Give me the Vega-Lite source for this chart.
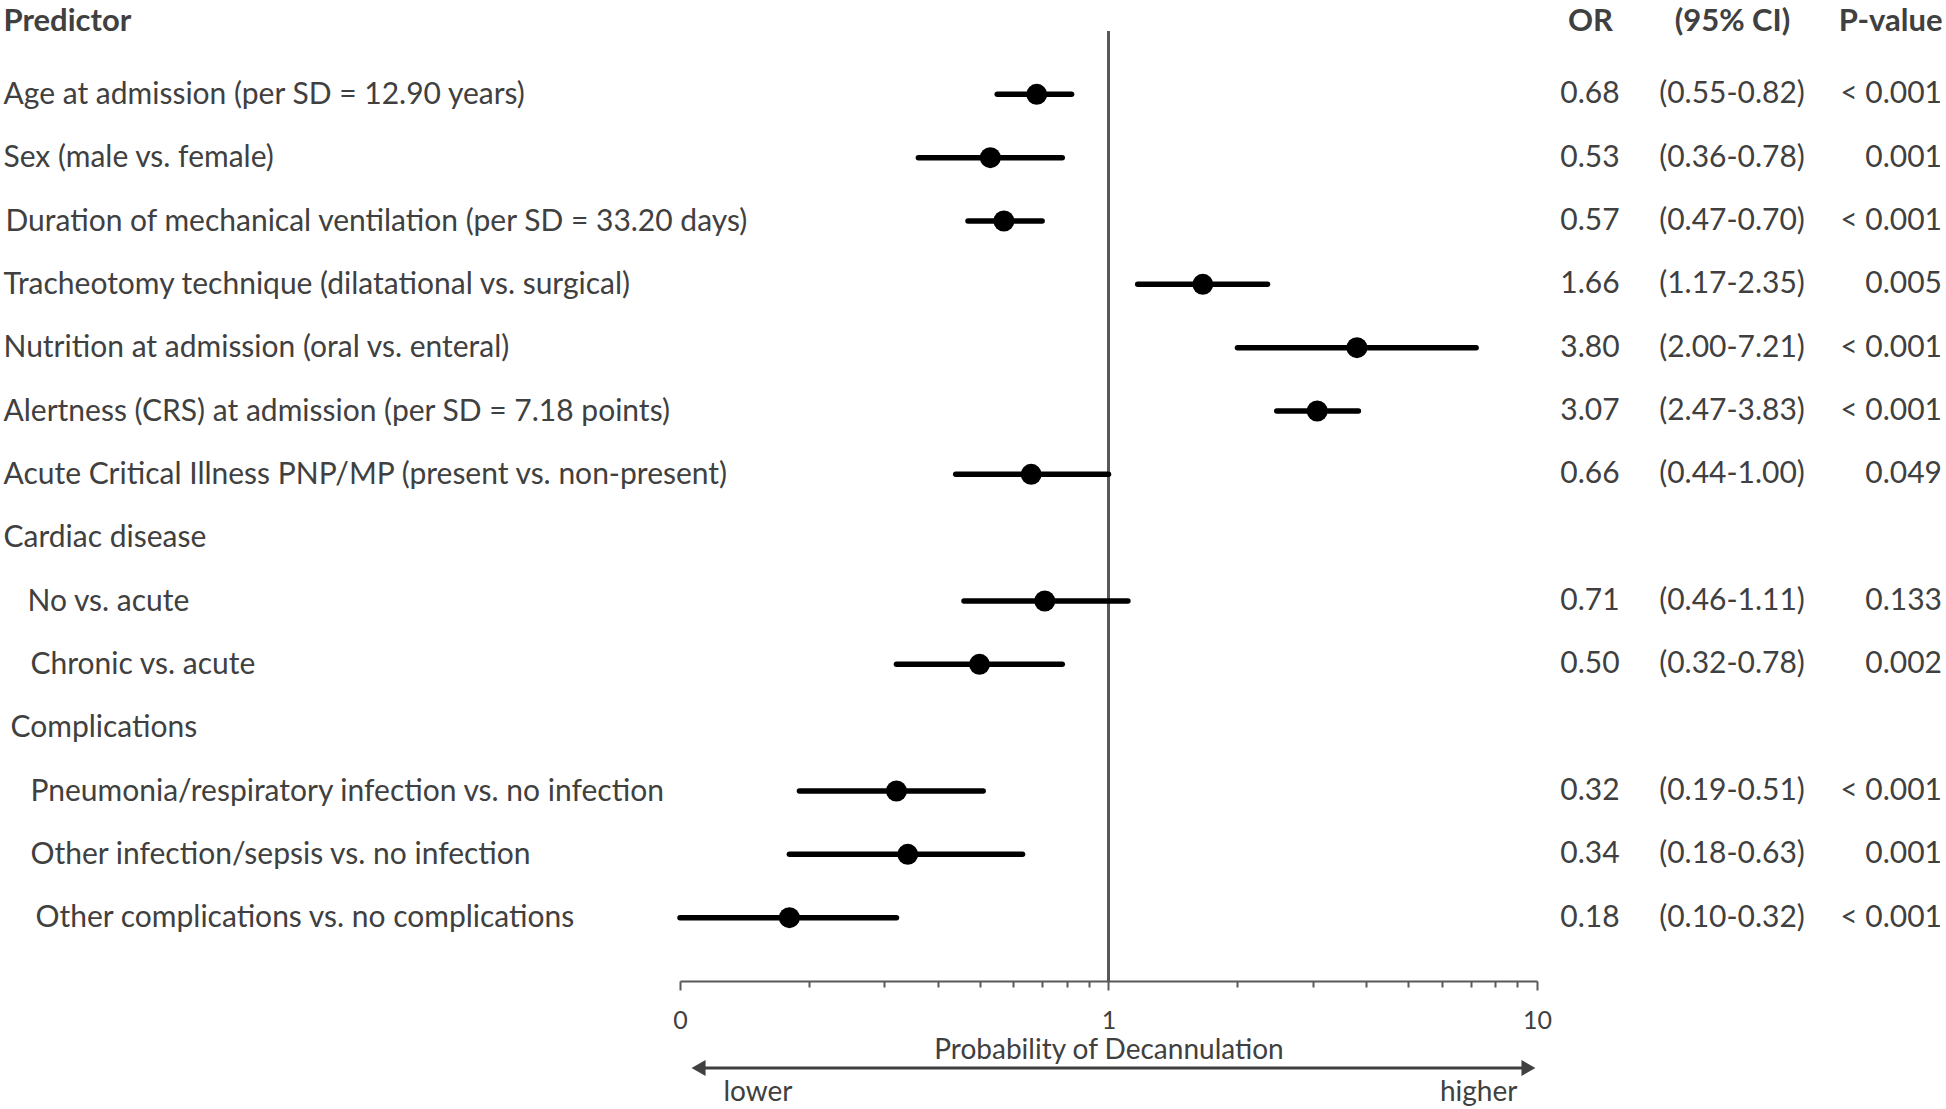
{
  "$schema": "https://vega.github.io/schema/vega-lite/v6.json",
  "padding": {"left": 3, "top": 5, "right": 4, "bottom": 0},
  "background": "white",
  "config": {
    "view": {"stroke": null},
    "font": "Lato",
    "text": {"font": "Lato"},
    "axis": {"labelFont": "Lato", "titleFont": "Lato"},
    "title": {"font": "Lato"}
  },
  "datasets": {
    "or": [
      {"label": "Age at admission (per SD = 12.90 years)", "OR": 0.68, "lo": 0.55, "hi": 0.82, "CI": "(0.55-0.82)", "P": "< 0.001"},
      {"label": "Sex (male vs. female)", "OR": 0.53, "lo": 0.36, "hi": 0.78, "CI": "(0.36-0.78)", "P": "0.001"},
      {"label": "Duration of mechanical ventilation (per SD = 33.20 days)", "OR": 0.57, "lo": 0.47, "hi": 0.70, "CI": "(0.47-0.70)", "P": "< 0.001"},
      {"label": "Tracheotomy technique (dilatational vs. surgical)", "OR": 1.66, "lo": 1.17, "hi": 2.35, "CI": "(1.17-2.35)", "P": "0.005"},
      {"label": "Nutrition at admission (oral vs. enteral)", "OR": 3.80, "lo": 2.00, "hi": 7.21, "CI": "(2.00-7.21)", "P": "< 0.001"},
      {"label": "Alertness (CRS) at admission (per SD = 7.18 points)", "OR": 3.07, "lo": 2.47, "hi": 3.83, "CI": "(2.47-3.83)", "P": "< 0.001"},
      {"label": "Acute Critical Illness PNP/MP (present vs. non-present)", "OR": 0.66, "lo": 0.44, "hi": 1.00, "CI": "(0.44-1.00)", "P": "0.049"},
      {"label": "Cardiac disease", "OR": null, "lo": null, "hi": null, "CI": null, "P": null},
      {"label": "No vs. acute", "OR": 0.71, "lo": 0.46, "hi": 1.11, "CI": "(0.46-1.11)", "P": "0.133"},
      {"label": "Chronic vs. acute", "OR": 0.50, "lo": 0.32, "hi": 0.78, "CI": "(0.32-0.78)", "P": "0.002"},
      {"label": "Complications", "OR": null, "lo": null, "hi": null, "CI": null, "P": null},
      {"label": "Pneumonia/respiratory infection vs. no infection", "OR": 0.32, "lo": 0.19, "hi": 0.51, "CI": "(0.19-0.51)", "P": "< 0.001"},
      {"label": "Other infection/sepsis vs. no infection", "OR": 0.34, "lo": 0.18, "hi": 0.63, "CI": "(0.18-0.63)", "P": "0.001"},
      {"label": "Other complications vs. no complications", "OR": 0.18, "lo": 0.10, "hi": 0.32, "CI": "(0.10-0.32)", "P": "< 0.001"}
    ]
  },
  "columns": 4,
  "spacing": {"row": 62, "column": 0},
  "bounds": "flush",
  "concat": [
    {
      "width": 857,
      "height": 950,
      "data": {"name": "or"},
      "layer": [
        {
          "mark": {"type": "rule", "color": "#595959", "strokeWidth": 2},
          "encoding": {
            "x": {"datum": 1, "type": "quantitative", "title": "Probability of Decannulation"}
          }
        },
        {
          "mark": {"type": "rule", "color": "black", "strokeWidth": 5.5, "strokeCap": "round"},
          "encoding": {
            "y": {
              "field": "label", "type": "nominal", "sort": null, "title": "Predictor",
              "scale": {"type": "point", "padding": 1, "domain": [
                "Age at admission (per SD = 12.90 years)",
                "Sex (male vs. female)",
                "Duration of mechanical ventilation (per SD = 33.20 days)",
                "Tracheotomy technique (dilatational vs. surgical)",
                "Nutrition at admission (oral vs. enteral)",
                "Alertness (CRS) at admission (per SD = 7.18 points)",
                "Acute Critical Illness PNP/MP (present vs. non-present)",
                "Cardiac disease",
                "No vs. acute",
                "Chronic vs. acute",
                "Complications",
                "Pneumonia/respiratory infection vs. no infection",
                "Other infection/sepsis vs. no infection",
                "Other complications vs. no complications"
              ]},
              "axis": {
                "labelAlign": "left",
                "labelPadding": {"condition": [
                  {"test": "datum.value == 'Complications'", "value": 670},
                  {"test": "datum.value == 'Other complications vs. no complications'", "value": 645},
                  {"test": "datum.value == 'No vs. acute'", "value": 653},
                  {"test": "datum.value == 'Duration of mechanical ventilation (per SD = 33.20 days)'", "value": 675},
                  {"test": "indexof(['Chronic vs. acute', 'Pneumonia/respiratory infection vs. no infection', 'Other infection/sepsis vs. no infection'], datum.value) >= 0", "value": 650}
                ], "value": 677},
                "ticks": false, "tickSize": 0, "domain": false, "grid": false,
                "labelFontSize": 30, "labelColor": "#404040", "labelLimit": 1000,
                "titleAngle": 0, "titleAlign": "left", "titleBaseline": "middle", "titleX": -677, "titleY": -10,
                "titleFontSize": 31, "titleFontWeight": "bold", "titleColor": "#404040"
              }
            },
            "x": {
              "field": "lo", "type": "quantitative", "title": "Probability of Decannulation",
              "scale": {"type": "log", "domain": [0.1, 10], "nice": false},
              "axis": {
                "values": [0.1, 0.2, 0.3, 0.4, 0.5, 0.6, 0.7, 0.8, 0.9, 1, 2, 3, 4, 5, 6, 7, 8, 9, 10],
                "labelExpr": "datum.value == 0.1 ? '0' : datum.value == 1 ? '1' : datum.value == 10 ? '10' : ''",
                "grid": false, "domainColor": "#595959", "domainWidth": 2,
                "tickColor": "#595959", "tickWidth": 2,
                "tickSize": {"condition": {"test": "datum.value == 0.1 || datum.value == 1 || datum.value == 10", "value": 9}, "value": 6},
                "labelFontSize": 25, "labelColor": "#404040", "labelPadding": 18, "labelFlush": false, "labelOverlap": false,
                "titleFontSize": 28, "titleFontWeight": "normal", "titleColor": "#404040", "titlePadding": 3
              }
            },
            "x2": {"field": "hi"}
          }
        },
        {
          "mark": {"type": "circle", "color": "black", "opacity": 1, "size": 440},
          "encoding": {
            "y": {"field": "label", "type": "nominal", "sort": null, "title": "Predictor"},
            "x": {"field": "OR", "type": "quantitative", "title": "Probability of Decannulation"}
          }
        }
      ]
    },
    {
      "width": 106,
      "height": 950,
      "data": {"name": "or"},
      "transform": [{"filter": "isValid(datum.OR)"}],
      "mark": {"type": "text", "fontSize": 30, "color": "#404040", "align": "center", "baseline": "middle"},
      "encoding": {
        "x": {
          "datum": "OR", "type": "nominal", "scale": {"type": "point", "padding": 0.5},
          "axis": {"orient": "top", "labels": false, "ticks": false, "domain": false, "grid": false, "title": "OR",
                   "titleFontSize": 31, "titleFontWeight": "bold", "titleColor": "#404040", "titleBaseline": "middle", "titleAlign": "center", "titleY": -10}
        },
        "y": {
          "field": "label", "type": "nominal", "sort": null, "axis": null,
          "scale": {"type": "point", "padding": 1, "domain": [
            "Age at admission (per SD = 12.90 years)",
            "Sex (male vs. female)",
            "Duration of mechanical ventilation (per SD = 33.20 days)",
            "Tracheotomy technique (dilatational vs. surgical)",
            "Nutrition at admission (oral vs. enteral)",
            "Alertness (CRS) at admission (per SD = 7.18 points)",
            "Acute Critical Illness PNP/MP (present vs. non-present)",
            "Cardiac disease",
            "No vs. acute",
            "Chronic vs. acute",
            "Complications",
            "Pneumonia/respiratory infection vs. no infection",
            "Other infection/sepsis vs. no infection",
            "Other complications vs. no complications"
          ]}
        },
        "text": {"field": "OR", "type": "quantitative", "format": ".2f"}
      }
    },
    {
      "width": 178,
      "height": 950,
      "data": {"name": "or"},
      "transform": [{"filter": "isValid(datum.OR)"}],
      "mark": {"type": "text", "fontSize": 30, "color": "#404040", "align": "center", "baseline": "middle"},
      "encoding": {
        "x": {
          "datum": "(95% CI)", "type": "nominal", "scale": {"type": "point", "padding": 0.5},
          "axis": {"orient": "top", "labels": false, "ticks": false, "domain": false, "grid": false, "title": "(95% CI)",
                   "titleFontSize": 31, "titleFontWeight": "bold", "titleColor": "#404040", "titleBaseline": "middle", "titleAlign": "center", "titleY": -10}
        },
        "y": {
          "field": "label", "type": "nominal", "sort": null, "axis": null,
          "scale": {"type": "point", "padding": 1, "domain": [
            "Age at admission (per SD = 12.90 years)",
            "Sex (male vs. female)",
            "Duration of mechanical ventilation (per SD = 33.20 days)",
            "Tracheotomy technique (dilatational vs. surgical)",
            "Nutrition at admission (oral vs. enteral)",
            "Alertness (CRS) at admission (per SD = 7.18 points)",
            "Acute Critical Illness PNP/MP (present vs. non-present)",
            "Cardiac disease",
            "No vs. acute",
            "Chronic vs. acute",
            "Complications",
            "Pneumonia/respiratory infection vs. no infection",
            "Other infection/sepsis vs. no infection",
            "Other complications vs. no complications"
          ]}
        },
        "text": {"field": "CI", "type": "nominal"}
      }
    },
    {
      "width": 121,
      "height": 950,
      "data": {"name": "or"},
      "transform": [{"filter": "isValid(datum.OR)"}],
      "mark": {"type": "text", "fontSize": 30, "color": "#404040", "align": "right", "baseline": "middle"},
      "encoding": {
        "x": {
          "datum": "P-value", "type": "nominal", "bandPosition": 1,
          "scale": {"type": "band", "paddingInner": 0, "paddingOuter": 0},
          "axis": {"orient": "top", "labels": false, "ticks": false, "domain": false, "grid": false, "title": "P-value",
                   "titleFontSize": 31, "titleFontWeight": "bold", "titleColor": "#404040", "titleBaseline": "middle",
                   "titleAnchor": "end", "titleAlign": "right", "titleY": -10}
        },
        "y": {
          "field": "label", "type": "nominal", "sort": null, "axis": null,
          "scale": {"type": "point", "padding": 1, "domain": [
            "Age at admission (per SD = 12.90 years)",
            "Sex (male vs. female)",
            "Duration of mechanical ventilation (per SD = 33.20 days)",
            "Tracheotomy technique (dilatational vs. surgical)",
            "Nutrition at admission (oral vs. enteral)",
            "Alertness (CRS) at admission (per SD = 7.18 points)",
            "Acute Critical Illness PNP/MP (present vs. non-present)",
            "Cardiac disease",
            "No vs. acute",
            "Chronic vs. acute",
            "Complications",
            "Pneumonia/respiratory infection vs. no infection",
            "Other infection/sepsis vs. no infection",
            "Other complications vs. no complications"
          ]}
        },
        "text": {"field": "P", "type": "nominal"}
      }
    },
    {
      "width": 857,
      "height": 50,
      "data": {"values": [{"low": "lower", "high": "higher"}]},
      "layer": [
        {
          "mark": {"type": "rule", "color": "#404040", "strokeWidth": 3},
          "encoding": {
            "x": {"datum": 0.11, "type": "quantitative", "scale": {"type": "log", "domain": [0.1, 10], "nice": false}, "axis": null},
            "x2": {"datum": 9.6}
          }
        },
        {
          "mark": {"type": "point", "shape": "triangle-left", "filled": true, "color": "#404040", "opacity": 1, "size": 260},
          "encoding": {"x": {"datum": 0.1105, "type": "quantitative"}}
        },
        {
          "mark": {"type": "point", "shape": "triangle-right", "filled": true, "color": "#404040", "opacity": 1, "size": 260},
          "encoding": {"x": {"datum": 9.55, "type": "quantitative"}}
        },
        {
          "mark": {"type": "text", "align": "left", "baseline": "middle", "dy": 25, "fontSize": 28, "color": "#404040"},
          "encoding": {"x": {"datum": 0.1263, "type": "quantitative"}, "text": {"field": "low", "type": "nominal"}}
        },
        {
          "mark": {"type": "text", "align": "right", "baseline": "middle", "dy": 25, "fontSize": 28, "color": "#404040"},
          "encoding": {"x": {"datum": 9.0, "type": "quantitative"}, "text": {"field": "high", "type": "nominal"}}
        }
      ]
    }
  ]
}
